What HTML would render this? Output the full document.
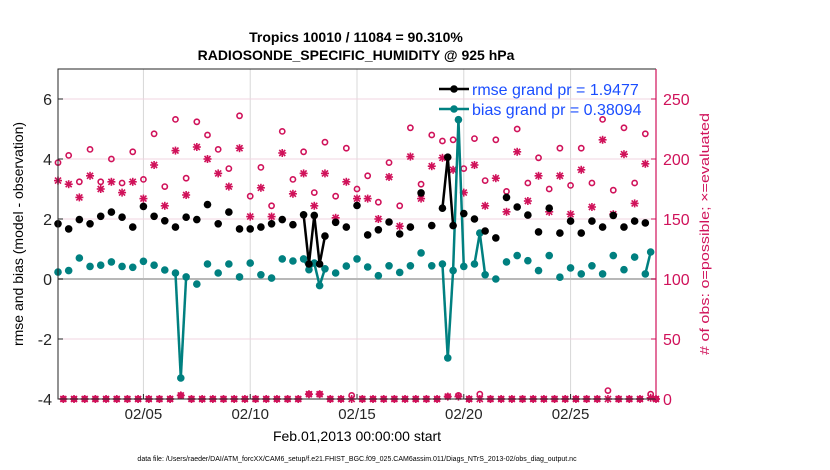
<!DOCTYPE html>
<html><head><meta charset="utf-8"><style>
body{margin:0;background:#fff;}
svg{display:block;font-family:"Liberation Sans",sans-serif;}
</style></head><body>
<svg id="chart" width="830" height="470" viewBox="0 0 830 470">
<text x="356" y="42" text-anchor="middle" font-size="14" font-weight="bold">Tropics 10010 / 11084 = 90.310%</text>
<text x="356" y="60" text-anchor="middle" font-size="14" font-weight="bold">RADIOSONDE_SPECIFIC_HUMIDITY @ 925 hPa</text>
<text x="357" y="441" text-anchor="middle" font-size="14">Feb.01,2013 00:00:00 start</text>
<text x="357" y="461" text-anchor="middle" font-size="7">data file: /Users/raeder/DAI/ATM_forcXX/CAM6_setup/f.e21.FHIST_BGC.f09_025.CAM6assim.011/Diags_NTrS_2013-02/obs_diag_output.nc</text>
<text transform="translate(23,234) rotate(-90)" text-anchor="middle" font-size="14">rmse and bias (model - observation)</text>
<text transform="translate(709,234) rotate(-90)" text-anchor="middle" font-size="13" fill="#d0125a" textLength="242" lengthAdjust="spacingAndGlyphs"># of obs: o=possible; ×=evaluated</text>
<g id="grid"></g><g id="marks"></g><g id="axes"></g>
</svg>
<script>
const xTickDays=[4,9,14,19,24];
const xTickLabels=["02/05","02/10","02/15","02/20","02/25"];
const leftTicks=[-4,-2,0,2,4,6];
const rightTicks=[0,50,100,150,200,250];
const rmseTimes=[0,0.5,1,1.5,2,2.5,3,3.5,4,4.5,5,5.5,6,6.5,7,7.5,8,8.5,9,9.5,10,10.5,11,11.5,11.75,12,12.25,12.5,13,13.5,14,14.5,15,15.5,16,16.5,17,17.5,18,18.25,18.5,19,19.5,20,20.5,21,21.5,22,22.5,23,23.5,24,24.5,25,25.5,26,26.5,27,27.5];
const rmseVals=[1.84,1.67,1.98,1.84,2.09,2.23,2.06,1.73,2.42,2.09,1.94,1.73,2.06,1.98,2.48,1.84,2.23,1.67,1.67,1.73,1.84,1.98,1.81,2.14,0.5,2.12,0.5,1.43,1.89,1.73,2.45,1.47,1.64,1.9,1.5,1.73,2.87,1.78,2.36,4.06,1.78,2.18,2.0,1.6,1.37,2.72,2.4,2.13,1.57,2.36,1.53,1.93,1.53,1.93,1.73,2.12,1.73,1.93,1.87];
const biasTimes=[0,0.5,1,1.5,2,2.5,3,3.5,4,4.5,5,5.5,5.75,6,6.5,7,7.5,8,8.5,9,9.5,10,10.5,11,11.5,11.75,12,12.25,12.5,13,13.5,14,14.5,15,15.5,16,16.5,17,17.5,18,18.25,18.5,18.75,19,19.5,19.75,20,20.5,21,21.5,22,22.5,23,23.5,24,24.5,25,25.5,26,26.5,27,27.5,27.75];
const biasVals=[0.23,0.28,0.7,0.42,0.46,0.57,0.42,0.39,0.59,0.46,0.3,0.2,-3.3,0.07,-0.17,0.5,0.2,0.5,0.07,0.53,0.14,0.03,0.67,0.6,0.67,0.31,0.53,-0.22,0.34,0.2,0.43,0.67,0.4,0.11,0.44,0.22,0.44,0.87,0.44,0.5,-2.63,0.28,5.31,0.42,0.5,1.53,0.14,0.0,0.57,0.78,0.61,0.28,0.78,0.06,0.37,0.17,0.44,0.17,0.78,0.31,0.73,0.17,0.9];
const obsTimes=[0,0.5,1,1.5,2,2.5,3,3.5,4,4.5,5,5.5,6,6.5,7,7.5,8,8.5,9,9.5,10,10.5,11,11.5,12,12.5,13,13.5,14,14.5,15,15.5,16,16.5,17,17.5,18,18.5,19,19.5,20,20.5,21,21.5,22,22.5,23,23.5,24,24.5,25,25.5,26,26.5,27,27.5];
const possibleVals=[197,203,181,208,181,200,180,206,183,221,177,233,184,231,220,208,192,236,169,193,161,223,183,206,172,214,169,209,175,186,164,197,161,226,179,220,215,216,192,217,182,216,173,225,180,201,175,209,178,209,180,233,174,226,180,221];
const evaluatedVals=[182,179,168,186,175,181,172,181,167,195,161,207,170,210,200,188,177,209,152,176,152,205,171,188,161,188,151,181,167,167,150,185,144,202,167,194,201,191,172,195,161,184,156,206,165,186,156,186,154,191,160,216,154,204,163,196];
const offTimes=[0.25,0.75,1.25,1.75,2.25,2.75,3.25,3.75,4.25,4.75,5.25,5.75,6.25,6.75,7.25,7.75,8.25,8.75,9.25,9.75,10.25,10.75,11.25,11.75,12.25,12.75,13.25,13.75,14.25,14.75,15.25,15.75,16.25,16.75,17.25,17.75,18.25,18.75,19.25,19.75,20.25,20.75,21.25,21.75,22.25,22.75,23.25,23.75,24.25,24.75,25.25,25.75,26.25,26.75,27.25,27.75,28];
const offPossible=[0,0,0,0,0,0,0,0,0,0,0,3,0,0,0,0,0,0,0,0,0,0,0,4,4,0,0,3,0,0,0,0,0,0,0,0,2,3,0,4,0,0,0,0,0,0,0,0,0,0,0,7,0,0,0,4,0];
const offEvaluated=[0,0,0,0,0,0,0,0,0,0,0,3,0,0,0,0,0,0,0,0,0,0,0,4,4,0,0,0,0,0,0,0,0,0,0,0,2,2,0,0,0,0,0,0,0,0,0,0,0,0,0,0,0,0,0,1,0];

const X0=58,X1=656,Y0=69,Y1=399;
const xS=d=>X0+(X1-X0)*d/28;
const yL=v=>Y1-(Y1-Y0)*(v+4)/11;
const yR=c=>Y1-(Y1-Y0)*c/275;
const NS="http://www.w3.org/2000/svg";
const RED="#d0125a",TEAL="#008080";
function mk(tag,attrs,parent){const e=document.createElementNS(NS,tag);for(const k in attrs)e.setAttribute(k,attrs[k]);parent.appendChild(e);return e;}
const grid=document.getElementById('grid'),marks=document.getElementById('marks'),axes=document.getElementById('axes');

xTickDays.forEach((d,i)=>{
  const l=mk('line',{x1:xS(d),x2:xS(d),y1:Y0,y2:Y1,stroke:'#d8d8d8','stroke-width':1},grid);
  
  
  const t=mk('text',{x:xS(d),y:Y1+20,'text-anchor':'middle','font-size':15,fill:'#262626'},axes);
  t.textContent=xTickLabels[i];
  
  
  mk('line',{x1:xS(d),x2:xS(d),y1:Y1,y2:Y1-5,stroke:'#262626'},axes);
});
rightTicks.forEach(c=>{
  if(c>0){const l=mk('line',{x1:X0,x2:X1,y1:yR(c),y2:yR(c),stroke:'#f2d4e0','stroke-width':1},grid);
  
  }
  const t=mk('text',{x:X1+7,y:yR(c)+6,'font-size':16,fill:RED},axes);
  t.textContent=c;
  
  
  mk('line',{x1:X1,x2:X1-5,y1:yR(c),y2:yR(c),stroke:RED},axes);
});
leftTicks.forEach(v=>{
  const t=mk('text',{x:X0-6,y:yL(v)+6,'text-anchor':'end','font-size':16,fill:'#262626'},axes);
  t.textContent=v;
  
  
  mk('line',{x1:X0,x2:X0+5,y1:yL(v),y2:yL(v),stroke:'#262626'},axes);
});
const zl=mk('line',{x1:X0,x2:X1,y1:yL(0),y2:yL(0),stroke:'#b8b8b8','stroke-width':2},grid);



function star(x,y,name){
  const g=mk('g',{stroke:RED,'stroke-width':1.6},marks);
  
  
  const r=4;
  mk('line',{x1:x-r,x2:x+r,y1:y,y2:y},g);mk('line',{x1:x,x2:x,y1:y-r,y2:y+r},g);
  mk('line',{x1:x-3,x2:x+3,y1:y-3,y2:y+3},g);mk('line',{x1:x-3,x2:x+3,y1:y+3,y2:y-3},g);
}
function circ(x,y,name){
  const c=mk('circle',{cx:x,cy:y,r:2.6,fill:'none',stroke:RED,'stroke-width':1.6},marks);
  
  
}
obsTimes.forEach((t,i)=>{star(xS(t),yR(evaluatedVals[i]),'evaluated-point');circ(xS(t),yR(possibleVals[i]),'possible-point');});
offTimes.forEach((t,i)=>{star(xS(t),yR(offEvaluated[i]),'evaluated-point');circ(xS(t),yR(offPossible[i]),'possible-point');});

function series(times,vals,color,name){
  for(let i=1;i<times.length;i++){
    if(times[i]-times[i-1]<=0.26){
      const l=mk('line',{x1:xS(times[i-1]),y1:yL(vals[i-1]),x2:xS(times[i]),y2:yL(vals[i]),stroke:color,'stroke-width':2.5},marks);
      
      
    }
  }
  times.forEach((t,i)=>{
    const c=mk('circle',{cx:xS(t),cy:yL(vals[i]),r:3.8,fill:color},marks);
    
    
  });
}
series(biasTimes,biasVals,TEAL,'bias');
series(rmseTimes,rmseVals,'#000','rmse');

const fr=mk('path',{d:`M${X1},${Y0} L${X0},${Y0} L${X0},${Y1} L${X1},${Y1}`,fill:'none',stroke:'#262626','stroke-width':1},axes);


const ra=mk('line',{x1:X1,x2:X1,y1:Y0,y2:Y1,stroke:RED,'stroke-width':1.2},axes);



const legNames=['rmse','bias'],legColors=['#000',TEAL],legText=['rmse grand pr = 1.9477','bias grand pr = 0.38094'];
legNames.forEach((n,i)=>{
  const y=89+20*i;
  const g=mk('g',{},axes);
  
  
  mk('line',{x1:439,x2:469,y1:y,y2:y,stroke:legColors[i],'stroke-width':2.5},g);
  mk('circle',{cx:454,cy:y,r:3.8,fill:legColors[i]},g);
  const t=mk('text',{x:472,y:y+6,'font-size':16,fill:'#1a4dff'},g);
  t.textContent=legText[i];
});
</script>
</body></html>
